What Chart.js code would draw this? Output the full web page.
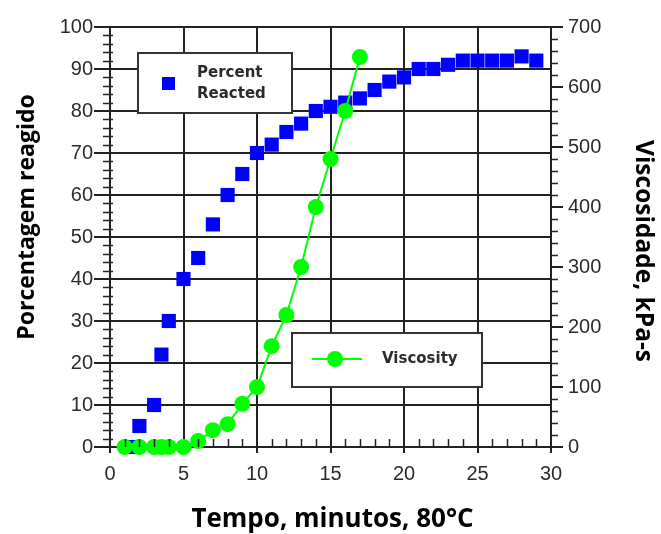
<!DOCTYPE html>
<html>
<head>
<meta charset="utf-8">
<script src="https://cdn.jsdelivr.net/npm/chart.js@4.4.1/dist/chart.umd.min.js"></script>
<style>
  html, body { margin: 0; padding: 0; background: #fff; }
  canvas { display: block; }
</style>
</head>
<body>
<canvas id="chart" width="661" height="534"></canvas>
<script>
// Percent reacted (left axis)
const reactedTime = [1.5, 2, 3, 3.5, 4, 5, 6, 7, 8, 9, 10, 11, 12, 13, 14, 15, 16, 17, 18, 19, 20, 21, 22, 23, 24, 25, 26, 27, 28, 29];
const reactedPct = [0, 5, 10, 22, 30, 40, 45, 53, 60, 65, 70, 72, 75, 77, 80, 81, 82, 83, 85, 87, 88, 90, 90, 91, 92, 92, 92, 92, 93, 92];

// Viscosity, kPa-s (right axis)
const viscTime = [1, 2, 3, 3.5, 4, 5, 6, 7, 8, 9, 10, 11, 12, 13, 14, 15, 16, 17];
const viscValue = [0, 0, 0, 0, 0, 0, 10, 28, 38, 72, 100, 168, 220, 300, 400, 480, 560, 650];

const xTitle = "Tempo, minutos, 80°C";
const yTitle = "Porcentagem reagido";
const y2Title = "Viscosidade, kPa-s";

const AXIS = "#222";
const BLUE = "#0000ff";
const GREEN = "#00ff00";
const tickFont = { family: "'Liberation Sans', Arial, sans-serif", size: 20 };

function toPoints(xs, ys) {
  return xs.map((x, i) => ({ x: x, y: ys[i] }));
}

// small ticks between the labelled ones
const minorTicks = {
  id: "minorTicks",
  afterDraw(chart) {
    const ctx = chart.ctx;
    const { x, y, y2 } = chart.scales;
    ctx.save();
    ctx.strokeStyle = AXIS;
    ctx.lineWidth = 1.5;
    ctx.beginPath();
    for (let v = 0; v <= 100; v += 2) {
      if (v % 10 === 0) continue;
      const py = Math.round(y.getPixelForValue(v)) + 0.5;
      ctx.moveTo(y.right - 7, py);
      ctx.lineTo(y.right + 3, py);
    }
    for (let v = 0; v <= 700; v += 20) {
      if (v % 100 === 0) continue;
      const py = Math.round(y2.getPixelForValue(v)) + 0.5;
      ctx.moveTo(y2.left, py);
      ctx.lineTo(y2.left + 7, py);
    }
    for (let v = 0; v <= 30; v += 1) {
      if (v % 5 === 0) continue;
      const px = Math.round(x.getPixelForValue(v)) + 0.5;
      ctx.moveTo(px, x.top);
      ctx.lineTo(px, x.top - 8);
    }
    ctx.stroke();
    ctx.restore();
  }
};

// axis titles, placed like the original figure (not centred on the axes)
const axisTitles = {
  id: "axisTitles",
  afterDraw(chart) {
    const ctx = chart.ctx;
    const a = chart.chartArea;
    ctx.save();
    ctx.fillStyle = "#000";
    ctx.textAlign = "center";
    ctx.textBaseline = "alphabetic";

    ctx.font = "bold 26px 'Open Sans', sans-serif";
    ctx.fillText(xTitle, (a.left + a.right) / 2 + 2, chart.height - 7);

    ctx.save();
    ctx.font = "bold 23px 'Open Sans', sans-serif";
    ctx.translate(34, (a.top + a.bottom) / 2 - 20);
    ctx.rotate(-Math.PI / 2);
    ctx.fillText(yTitle, 0, 0);
    ctx.restore();

    ctx.save();
    ctx.font = "bold 24.5px 'Open Sans', sans-serif";
    ctx.translate(chart.width - 25, (a.top + a.bottom) / 2 + 14);
    ctx.rotate(Math.PI / 2);
    ctx.fillText(y2Title, 0, 0);
    ctx.restore();

    ctx.restore();
  }
};

// the two boxed legends inside the plot
const boxLegends = {
  id: "boxLegends",
  afterDatasetsDraw(chart) {
    const ctx = chart.ctx;
    const a = chart.chartArea;
    ctx.save();
    ctx.font = "bold 15px 'DejaVu Sans', sans-serif";
    ctx.textBaseline = "middle";
    ctx.lineWidth = 2;
    ctx.strokeStyle = "#333";

    // Percent Reacted
    let bx = a.left + 28, by = a.top + 26, bw = 154, bh = 60;
    ctx.fillStyle = "#fff";
    ctx.fillRect(bx, by, bw, bh);
    ctx.strokeRect(bx, by, bw, bh);
    ctx.fillStyle = BLUE;
    ctx.fillRect(bx + 24, by + 24, 13, 13);
    ctx.fillStyle = "#2b2b2b";
    ctx.fillText("Percent", bx + 59, by + 20);
    ctx.fillText("Reacted", bx + 59, by + 41);

    // Viscosity
    bx = a.left + 182; by = a.top + 306; bw = 190; bh = 54;
    ctx.fillStyle = "#fff";
    ctx.fillRect(bx, by, bw, bh);
    ctx.strokeRect(bx, by, bw, bh);
    ctx.strokeStyle = GREEN;
    ctx.beginPath();
    ctx.moveTo(bx + 20, by + 26);
    ctx.lineTo(bx + 70, by + 26);
    ctx.stroke();
    ctx.fillStyle = GREEN;
    ctx.beginPath();
    ctx.arc(bx + 43, by + 26, 8, 0, Math.PI * 2);
    ctx.fill();
    ctx.fillStyle = "#2b2b2b";
    ctx.fillText("Viscosity", bx + 90, by + 26);
    ctx.restore();
  }
};

new Chart(document.getElementById("chart"), {
  type: "line",
  data: {
    datasets: [
      {
        label: "Viscosity",
        data: toPoints(viscTime, viscValue),
        yAxisID: "y2",
        borderColor: GREEN,
        backgroundColor: GREEN,
        borderWidth: 2,
        pointStyle: "circle",
        pointRadius: 8,
        pointBorderWidth: 0,
        tension: 0,
        clip: false,
        order: 0
      },
      {
        label: "Percent Reacted",
        data: toPoints(reactedTime, reactedPct),
        yAxisID: "y",
        showLine: false,
        borderColor: BLUE,
        backgroundColor: BLUE,
        pointStyle: "rect",
        pointRadius: 10,
        pointBorderWidth: 0,
        clip: false,
        order: 1
      }
    ]
  },
  options: {
    responsive: false,
    animation: false,
    layout: { padding: { top: 27, left: 0, right: 0, bottom: 0 } },
    plugins: {
      legend: { display: false },
      tooltip: { enabled: false }
    },
    scales: {
      x: {
        type: "linear",
        min: 0,
        max: 30,
        afterFit: (s) => { s.height = 87; },
        ticks: { stepSize: 5, color: "#2b2b2b", font: tickFont, padding: 9 },
        grid: { color: AXIS, lineWidth: 2, tickLength: 6, tickColor: AXIS },
        border: { color: AXIS, width: 2 }
      },
      y: {
        position: "left",
        min: 0,
        max: 100,
        afterFit: (s) => { s.width = 110; },
        ticks: { stepSize: 10, color: "#2b2b2b", font: tickFont, padding: 1 },
        grid: { color: AXIS, lineWidth: 2, tickLength: 16, tickColor: AXIS },
        border: { color: AXIS, width: 2 }
      },
      y2: {
        position: "right",
        min: 0,
        max: 700,
        afterFit: (s) => { s.width = 110; },
        ticks: { stepSize: 100, color: "#2b2b2b", font: tickFont, padding: 5 },
        grid: { drawOnChartArea: false, tickLength: 12, tickColor: AXIS, lineWidth: 2 },
        border: { color: AXIS, width: 2 }
      }
    }
  },
  plugins: [minorTicks, axisTitles, boxLegends]
});
</script>
</body>
</html>
